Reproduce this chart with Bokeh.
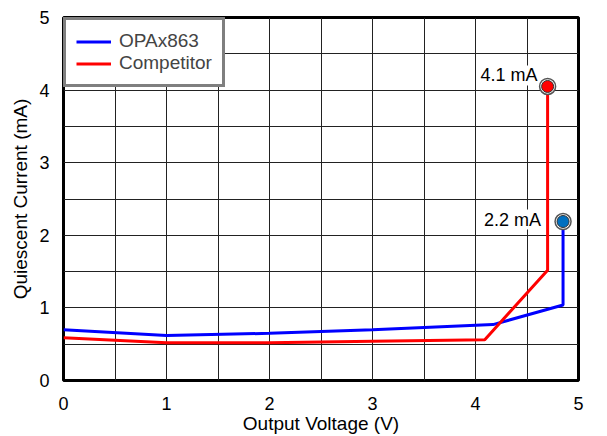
from bokeh.plotting import figure
from bokeh.models import FixedTicker, Legend, LegendItem, Label, ColumnDataSource
from bokeh.core.properties import value
from bokeh.embed import file_html
from bokeh.resources import INLINE

# Data
opa_x = [0.0, 1.0, 2.0, 3.0, 4.17, 4.85, 4.85]
opa_y = [0.70, 0.62, 0.65, 0.70, 0.77, 1.04, 2.19]
comp_x = [0.0, 1.0, 2.0, 3.0, 4.09, 4.70, 4.70]
comp_y = [0.59, 0.52, 0.52, 0.54, 0.56, 1.52, 4.05]
marker_labels = ["4.1 mA", "2.2 mA"]
x_ticks = [0, 1, 2, 3, 4, 5]
y_ticks = [0, 1, 2, 3, 4, 5]
grid_ticks = [0.5, 1, 1.5, 2, 2.5, 3, 3.5, 4, 4.5]

FONT = "Liberation Sans"

p = figure(width=607, height=436, x_range=(0, 5), y_range=(0, 5),
           output_backend="svg", toolbar_location=None,
           min_border_left=63, min_border_right=29, min_border_top=17, min_border_bottom=54)
p.background_fill_color = "white"
p.border_fill_color = "white"
p.outline_line_color = "black"
p.outline_line_width = 3

for ax in (p.xaxis[0], p.yaxis[0]):
    ax.major_tick_line_color = None
    ax.minor_tick_line_color = None
    ax.axis_line_color = None
    ax.major_label_text_font = FONT
    ax.major_label_text_font_size = "18px"
    ax.major_label_text_color = "black"
    ax.axis_label_text_font = FONT
    ax.axis_label_text_font_size = "19px"
    ax.axis_label_text_font_style = "normal"
    ax.axis_label_text_color = "black"

p.xaxis.ticker = FixedTicker(ticks=x_ticks)
p.yaxis.ticker = FixedTicker(ticks=y_ticks)
p.xaxis.major_label_standoff = 10
p.yaxis.major_label_standoff = 8
p.xaxis.axis_label = "Output Voltage (V)"
p.yaxis.axis_label = "Quiescent Current (mA)"
p.xaxis.axis_label_standoff = 0
p.yaxis.axis_label_standoff = 5

p.xgrid.ticker = FixedTicker(ticks=grid_ticks)
p.ygrid.ticker = FixedTicker(ticks=grid_ticks)
for g in (p.xgrid[0], p.ygrid[0]):
    g.grid_line_color = "#222222"
    g.grid_line_width = 1

r_opa = p.line(opa_x, opa_y, line_color="#0000FF", line_width=3)
r_comp = p.line(comp_x, comp_y, line_color="#FF0000", line_width=3)

# end markers
mx = [comp_x[-1], opa_x[-1]]
my = [comp_y[-1], opa_y[-1]]
mcol = ["#FF0000", "#0070C0"]
src = ColumnDataSource(dict(x=mx, y=my, c=mcol, t=marker_labels, xo=[-10, -22], yo=[-11, -2]))
p.scatter("x", "y", source=src, size=16, fill_color="white", line_color="#555555", line_width=1.5)
p.scatter("x", "y", source=src, size=12, fill_color="c", line_color="#333333", line_width=1)
p.text("x", "y", text="t", source=src, x_offset="xo", y_offset="yo",
       text_align="right", text_baseline="middle",
       text_font=value(FONT), text_font_size="18px", text_color="black",
       background_fill_color="white")

legend = Legend(items=[LegendItem(label="OPAx863", renderers=[r_opa]),
                       LegendItem(label="Competitor", renderers=[r_comp])],
                location="top_left")
legend.margin = 0
legend.padding = 10
legend.spacing = 0
legend.glyph_width = 35
legend.glyph_height = 21
legend.label_height = 21
legend.label_standoff = 8
legend.label_text_font = FONT
legend.label_text_font_size = "19px"
legend.border_line_color = "black"
legend.border_line_width = 3
legend.background_fill_alpha = 1
p.add_layout(legend)

p.add_layout(Label(x=574, y=418, x_units="canvas", y_units="canvas", text="D806",
                   text_font=FONT, text_font_size="11px", text_color="#999999",
                   text_baseline="top"))

open("out.html", "w").write(file_html(p, INLINE))
